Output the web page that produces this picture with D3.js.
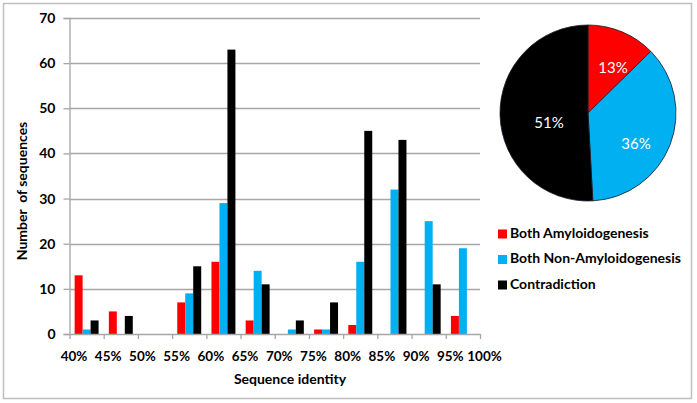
<!DOCTYPE html>
<html><head><meta charset="utf-8">
<script src="https://cdn.jsdelivr.net/npm/d3@7"></script>
<style>body{margin:0;background:#fff;} svg{display:block;font-family:Lato,"Open Sans",sans-serif;}</style>
</head><body>
<svg id="c" width="697" height="403"></svg>
<script>
const categories = ["40-45","45-50","50-55","55-60","60-65","65-70","70-75","75-80","80-85","85-90","90-95","95-100"];
const seriesNames = ["Both Amyloidogenesis","Both Non-Amyloidogenesis","Contradiction"];
const amyloid = [13,5,0,7,16,3,0,1,2,0,0,4];
const nonAmyloid = [1,0,0,9,29,14,1,1,16,32,25,19];
const contradiction = [3,4,0,15,63,11,3,7,45,43,11,0];
const xTickLabels = ["40%","45%","50%","55%","60%","65%","70%","75%","80%","85%","90%","95%","100%"];
const yTicks = [0,10,20,30,40,50,60,70];
const colors = ["#ff0000","#00b0f0","#000000"];

const series = [amyloid, nonAmyloid, contradiction];
const svg = d3.select("#c");

svg.append("rect").attr("x",3.5).attr("y",3.5).attr("width",688).attr("height",395)
  .attr("fill","#fff").attr("stroke","#bfbfbf").attr("stroke-width",1.5);

const L=69.5, R=480, T=18, B=334;
const y = d3.scaleLinear().domain([0,70]).range([B,T]);
const xPos = d3.scalePoint().domain(xTickLabels).range([L,R]);
const x0 = d3.scaleBand().domain(categories).range([L,R]).paddingInner(0.3).paddingOuter(0.15);
const x1 = d3.scaleBand().domain(d3.range(3)).range([0,x0.bandwidth()]);

// grid
svg.append("g").selectAll("line").data(yTicks.filter(d=>d>0)).join("line")
  .attr("x1",L).attr("x2",R).attr("y1",d=>Math.round(y(d))+0.5).attr("y2",d=>Math.round(y(d))+0.5)
  .attr("stroke","#a6a6a6").attr("stroke-width",1.3);

// bars
const g = svg.append("g");
categories.forEach((c,i)=>{
  series.forEach((s,k)=>{
    if(s[i]>0) g.append("rect").attr("x",x0(c)+x1(k)).attr("width",x1.bandwidth())
      .attr("y",y(s[i])).attr("height",B-y(s[i])).attr("fill",colors[k]);
  });
});

// y axis
const ya = svg.append("g").attr("transform",`translate(${L},0)`)
  .call(d3.axisLeft(y).tickValues(yTicks).tickSize(6).tickPadding(8).tickFormat(d3.format("d")));
ya.select(".domain").attr("stroke","#a6a6a6").attr("stroke-width",1.3);
ya.selectAll(".tick line").attr("stroke","#a6a6a6").attr("stroke-width",1.3);
ya.selectAll("text").attr("font-size",14).attr("font-weight","bold").attr("fill","#000").attr("font-family","Lato");

// x axis
const xa = svg.append("g").attr("transform",`translate(0,${B})`)
  .call(d3.axisBottom(xPos).tickSize(5).tickPadding(12).tickSizeOuter(0));
xa.select(".domain").attr("stroke","#a6a6a6").attr("stroke-width",1.3);
xa.selectAll(".tick line").attr("stroke","#a6a6a6").attr("stroke-width",1.3);
xa.selectAll("text").attr("font-size",13.5).attr("font-weight","bold").attr("fill","#000").attr("font-family","Lato").attr("dx",4);

// axis titles
svg.append("text").attr("x",290).attr("y",384).attr("text-anchor","middle")
  .attr("font-size",14).attr("font-weight","bold").text("Sequence identity");
svg.append("text").attr("transform","translate(27,191) rotate(-90)").attr("text-anchor","middle")
  .attr("font-size",14).attr("font-weight","bold").attr("xml:space","preserve").text("Number  of sequences");

// pie
const totals = series.map(s=>d3.sum(s));
const total = d3.sum(totals);
const pie = d3.pie().sort(null)(totals);
const arc = d3.arc().innerRadius(0).outerRadius(88);
const pg = svg.append("g").attr("transform","translate(588,113)");
pg.selectAll("path").data(pie).join("path").attr("d",arc)
  .attr("fill",(d,i)=>colors[i]).attr("stroke","#1a1a2e").attr("stroke-width",0.8);
const labelPos = [[25,-44],[48,32],[-39,11]];
pg.selectAll("text").data(pie).join("text")
  .attr("x",(d,i)=>labelPos[i][0]).attr("y",(d,i)=>labelPos[i][1])
  .attr("text-anchor","middle").attr("dominant-baseline","middle")
  .attr("fill","#fff").attr("font-size",15)
  .text(d=>Math.round(d.value/total*100)+"%");

// legend
const lg = svg.append("g").attr("transform","translate(498,0)");
seriesNames.forEach((n,i)=>{
  const yy = 234 + i*25.5;
  lg.append("rect").attr("x",0).attr("y",yy-4.5).attr("width",9).attr("height",9).attr("fill",colors[i]);
  lg.append("text").attr("x",12).attr("y",yy).attr("dominant-baseline","middle")
    .attr("font-size",14).attr("font-weight","bold").text(n);
});
</script>
</body></html>
